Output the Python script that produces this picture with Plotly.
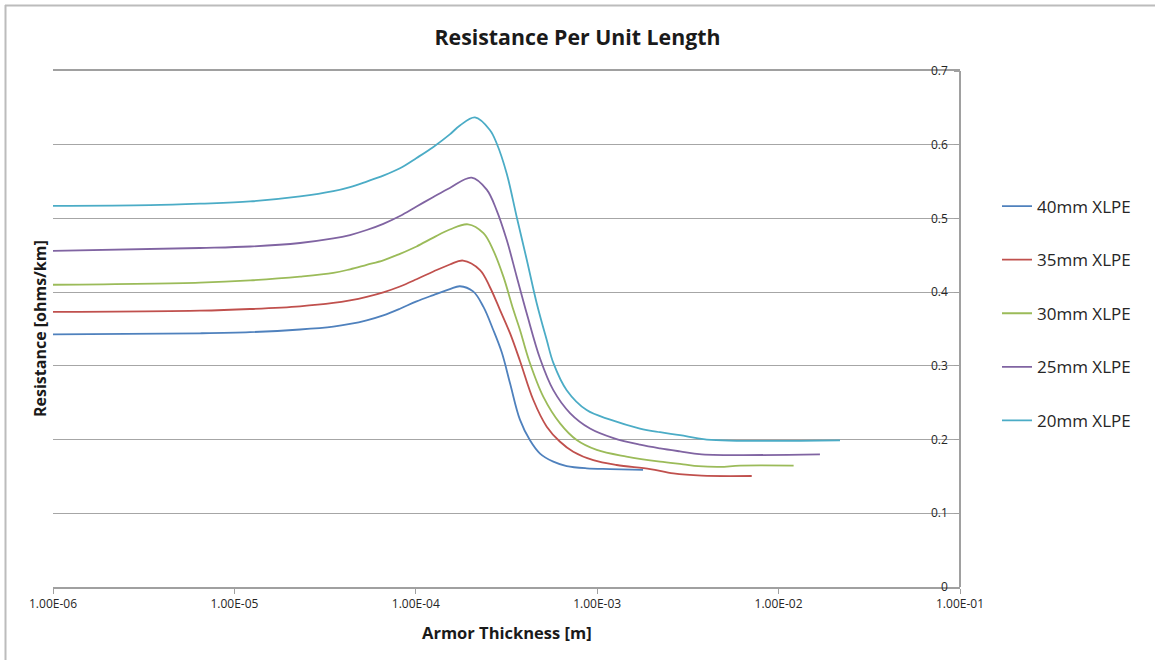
import plotly.graph_objects as go

# ---- data ----
series_names = ["40mm XLPE", "35mm XLPE", "30mm XLPE", "25mm XLPE", "20mm XLPE"]
series_colors = ["#4F81BD", "#C0504D", "#9BBB59", "#8064A2", "#4BACC6"]

thick_40 = [1.00e-6, 6.46e-6, 1.22e-5, 2.30e-5, 3.51e-5, 4.34e-5, 5.36e-5, 6.62e-5, 8.18e-5, 1.01e-4,
            1.25e-4, 1.54e-4, 1.75e-4, 2.07e-4, 2.36e-4, 2.67e-4, 2.98e-4, 3.31e-4, 3.75e-4, 4.26e-4,
            4.84e-4, 5.73e-4, 6.79e-4, 8.75e-4, 1.18e-3, 1.79e-3]
res_40 = [0.3428, 0.3442, 0.3457, 0.3493, 0.3532, 0.3568, 0.3618, 0.3685, 0.3775, 0.3875,
          0.3960, 0.4040, 0.4080, 0.401, 0.380, 0.349, 0.318, 0.276, 0.227, 0.199,
          0.181, 0.170, 0.164, 0.161, 0.160, 0.159]

thick_35 = [1.00e-6, 6.46e-6, 1.22e-5, 2.30e-5, 3.51e-5, 4.34e-5, 5.36e-5, 6.62e-5, 8.18e-5, 1.01e-4,
            1.25e-4, 1.54e-4, 1.82e-4, 2.26e-4, 2.56e-4, 2.91e-4, 3.31e-4, 3.75e-4, 4.44e-4, 5.27e-4,
            6.24e-4, 7.38e-4, 9.52e-4, 1.28e-3, 1.96e-3, 2.63e-3, 3.77e-3, 7.11e-3]
res_35 = [0.3731, 0.3748, 0.3771, 0.3808, 0.3853, 0.3889, 0.3937, 0.3998, 0.4077, 0.4175,
          0.428, 0.4375, 0.4429, 0.430, 0.407, 0.376, 0.344, 0.307, 0.254, 0.2175,
          0.197, 0.1835, 0.172, 0.1655, 0.160, 0.154, 0.151, 0.1506]

thick_30 = [1.00e-6, 6.46e-6, 1.22e-5, 2.30e-5, 3.51e-5, 4.34e-5, 5.36e-5, 6.62e-5, 8.18e-5, 1.01e-4,
            1.25e-4, 1.54e-4, 1.94e-4, 2.36e-4, 2.67e-4, 3.04e-4, 3.45e-4, 3.75e-4, 4.20e-4, 5.05e-4,
            6.24e-4, 7.71e-4, 9.94e-4, 1.45e-3, 2.22e-3, 2.98e-3, 3.61e-3, 4.75e-3, 6.13e-3, 1.21e-2]
res_30 = [0.410, 0.413, 0.416, 0.421, 0.426, 0.431, 0.437, 0.443, 0.452, 0.462,
          0.474, 0.485, 0.492, 0.480, 0.457, 0.421, 0.376, 0.349, 0.308, 0.258,
          0.222, 0.1994, 0.186, 0.177, 0.170, 0.1665, 0.164, 0.163, 0.1646, 0.1646]

thick_25 = [1.00e-6, 6.46e-6, 1.22e-5, 2.30e-5, 3.51e-5, 4.34e-5, 5.36e-5, 6.62e-5, 8.18e-5, 1.01e-4,
            1.25e-4, 1.54e-4, 2.03e-4, 2.46e-4, 2.79e-4, 3.17e-4, 3.60e-4, 4.09e-4, 4.84e-4, 5.73e-4,
            7.08e-4, 9.13e-4, 1.23e-3, 1.72e-3, 2.22e-3, 2.86e-3, 3.77e-3, 1.69e-2]
res_25 = [0.456, 0.4599, 0.4619, 0.4667, 0.4728, 0.4775, 0.4843, 0.4927, 0.5033, 0.5162,
          0.5291, 0.5413, 0.5553, 0.539, 0.511, 0.471, 0.421, 0.371, 0.310, 0.267,
          0.236, 0.215, 0.202, 0.193, 0.188, 0.184, 0.180, 0.180]

thick_20 = [1.00e-6, 3.43e-6, 6.46e-6, 1.22e-5, 2.30e-5, 3.51e-5, 4.34e-5, 5.36e-5, 6.62e-5, 8.18e-5,
            1.01e-4, 1.25e-4, 1.54e-4, 1.75e-4, 2.12e-4, 2.56e-4, 2.79e-4, 3.17e-4, 3.60e-4, 4.09e-4,
            4.64e-4, 5.27e-4, 5.73e-4, 6.79e-4, 8.75e-4, 1.18e-3, 1.72e-3, 2.22e-3, 2.86e-3, 4.02e-3,
            2.18e-2]
res_20 = [0.517, 0.518, 0.520, 0.523, 0.5298, 0.537, 0.5426, 0.550, 0.558, 0.568,
          0.582, 0.597, 0.614, 0.626, 0.637, 0.620, 0.602, 0.561, 0.502, 0.444,
          0.385, 0.335, 0.304, 0.267, 0.240, 0.227, 0.215, 0.210, 0.206, 0.200,
          0.199]

x_tick_vals = [1e-6, 1e-5, 1e-4, 1e-3, 1e-2, 1e-1]
x_tick_text = ["1.00E-06", "1.00E-05", "1.00E-04", "1.00E-03", "1.00E-02", "1.00E-01"]
y_tick_vals = [0, 0.1, 0.2, 0.3, 0.4, 0.5, 0.6, 0.7]
y_tick_text = ["0", "0.1", "0.2", "0.3", "0.4", "0.5", "0.6", "0.7"]

title_text = "Resistance Per Unit Length"
x_title = "Armor Thickness [m]"
y_title = "Resistance [ohms/km]"

xs = [thick_40, thick_35, thick_30, thick_25, thick_20]
ys = [res_40, res_35, res_30, res_25, res_20]

FONT = "Open Sans"
fig = go.Figure()
for name, color, xv, yv in zip(series_names, series_colors, xs, ys):
    fig.add_trace(go.Scatter(
        x=xv, y=yv, name=name, mode="lines",
        line=dict(color=color, width=1.8, shape="spline", smoothing=1.0),
        legendgroup=name,
    ))

W, H = 1155, 660
L, R, T, B = 53, 195, 71, 73

def px_x(p):
    return (p - L) / (W - L - R)

def px_y(p):
    return (H - B - p) / (H - T - B)

fig.update_layout(
    width=W, height=H, autosize=False,
    margin=dict(l=L, r=R, t=T, b=B, pad=0),
    paper_bgcolor="white", plot_bgcolor="white",
    font=dict(family=FONT, color="#262626"),
    title=dict(text="<b>" + title_text + "</b>", x=0.5, xref="container", xanchor="center",
               y=1 - 38 / H, yref="container", yanchor="middle",
               font=dict(size=21.3, family=FONT, color="#1a1a1a")),
    showlegend=True,
    legend=dict(x=px_x(997), xanchor="left", y=px_y(313.5), yanchor="middle",
                font=dict(size=17, family=FONT, color="#262626"),
                tracegroupgap=28.5, bgcolor="rgba(0,0,0,0)", borderwidth=0),
    xaxis=dict(type="log", range=[-6, -1], tickmode="array",
               tickvals=x_tick_vals, ticktext=x_tick_text,
               ticks="outside", ticklen=5, tickcolor="#a0a0a0", tickwidth=1,
               showline=True, linecolor="#a0a0a0", linewidth=1.5, mirror=True,
               showgrid=False, zeroline=False, automargin=False,
               tickfont=dict(size=12, family=FONT, color="#262626")),
    yaxis=dict(range=[0, 0.7], tickmode="array", tickvals=y_tick_vals, ticktext=y_tick_text,
               side="left", anchor="free", position=1,
               ticks="outside", ticklen=5, tickcolor="#a0a0a0", tickwidth=1,
               ticklabelstandoff=4,
               showline=True, linecolor="#a0a0a0", linewidth=1.5,
               showgrid=True, gridcolor="#a6a6a6", gridwidth=1.2, zeroline=False,
               automargin=False,
               tickfont=dict(size=12, family=FONT, color="#262626")),
    annotations=[
        dict(text="<b>" + x_title + "</b>", xref="paper", yref="paper",
             x=0.5, y=px_y(632), xanchor="center", yanchor="middle", showarrow=False,
             font=dict(size=16.5, family=FONT, color="#1a1a1a")),
        dict(text="<b>" + y_title + "</b>", xref="paper", yref="paper",
             x=px_x(40), y=0.5, xanchor="center", yanchor="middle", showarrow=False,
             textangle=-90, font=dict(size=16, family=FONT, color="#1a1a1a")),
    ],
    shapes=[
        dict(type="line", xref="paper", yref="paper", x0=px_x(5.5), x1=px_x(5.5),
             y0=px_y(660), y1=px_y(5), line=dict(color="#bcbcbc", width=2)),
        dict(type="line", xref="paper", yref="paper", x0=px_x(5), x1=px_x(1155),
             y0=px_y(5.5), y1=px_y(5.5), line=dict(color="#bcbcbc", width=2)),
    ],
)

fig.write_html("out.html")
